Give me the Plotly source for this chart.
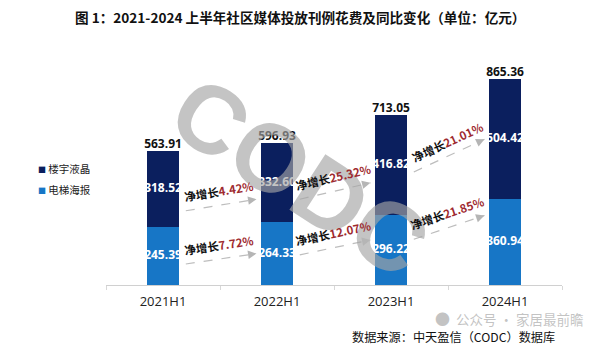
import math
import plotly.graph_objects as go

# ---------------- data ----------------
categories = ["2021H1", "2022H1", "2023H1", "2024H1"]
lcd_values = [318.52, 332.60, 416.82, 504.42]      # 楼宇液晶
poster_values = [245.39, 264.33, 296.22, 360.94]   # 电梯海报
totals = [563.91, 596.93, 713.05, 865.36]
lcd_growth = [4.42, 25.32, 21.01]
poster_growth = [7.72, 12.07, 21.85]
series_names = ["楼宇液晶", "电梯海报"]
title_text = "图 1：2021-2024 上半年社区媒体投放刊例花费及同比变化（单位：亿元）"
source_text = "数据来源：中天盈信（CODC）数据库"
wechat_text = "公众号 · 家居最前瞻"

# ---------------- layout constants ----------------
W, H = 600, 356
ML, MR, MT, MB = 106, 38, 71, 71
YMAX = 900
DARK = "#0b1f5e"
LIGHT = "#1776c6"
CJK = "Noto Sans CJK SC"
NUM = "Open Sans"

PW, PH = W - ML - MR, H - MT - MB
px_x = PW / len(categories)
px_y = PH / YMAX

def pxx(px):
    return (px - ML) / PW

def pxy(py):
    return (H - MB - py) / PH

fig = go.Figure()
fig.add_trace(go.Bar(x=categories, y=poster_values, name=series_names[1], showlegend=False,
                     marker=dict(color=LIGHT, line=dict(width=0)), width=0.28))
fig.add_trace(go.Bar(x=categories, y=lcd_values, name=series_names[0], showlegend=False,
                     marker=dict(color=DARK, line=dict(width=0)), width=0.28))

# segment labels
fig.add_trace(go.Scatter(x=categories, y=[v / 2 for v in poster_values], mode="text",
                         text=[f"<b>{v:.2f}</b>" for v in poster_values], cliponaxis=False,
                         textfont=dict(color="white", size=12, family=NUM),
                         showlegend=False, hoverinfo="skip"))
fig.add_trace(go.Scatter(x=categories, y=[p + v / 2 for p, v in zip(poster_values, lcd_values)],
                         mode="text", text=[f"<b>{v:.2f}</b>" for v in lcd_values], cliponaxis=False,
                         textfont=dict(color="white", size=12, family=NUM),
                         showlegend=False, hoverinfo="skip"))
fig.add_trace(go.Scatter(x=categories, y=totals, mode="text", cliponaxis=False,
                         text=[f"<b>{v:.2f}</b>" for v in totals], textposition="top center",
                         textfont=dict(color="#111", size=12, family=NUM),
                         showlegend=False, hoverinfo="skip"))

shapes = []
annotations = []

# watermark (drawn first so other annotations sit on top)
annotations.append(dict(x=pxx(300), y=pxy(176), xref="paper", yref="paper", text="<b>CODC</b>",
                        xanchor="center", yanchor="middle", showarrow=False, textangle=33,
                        font=dict(size=96, color="rgba(165,165,165,0.65)", family="Liberation Sans")))

def add_arrow(i, y0, y1, pct):
    x0 = i + 0.2
    x1 = i + 1 - 0.18
    shapes.append(dict(type="line", xref="x", yref="y", x0=x0, y0=y0, x1=x1, y1=y1,
                       line=dict(color="#bdbdbd", width=1.2, dash="dash")))
    dxp = (x1 - x0) * px_x
    dyp = (y1 - y0) * px_y
    L = math.hypot(dxp, dyp)
    ux, uy = dxp / L, dyp / L
    annotations.append(dict(x=x1, y=y1, xref="x", yref="y", text="", showarrow=True,
                            ax=-ux * 8, ay=uy * 8, arrowhead=2, arrowsize=1.3,
                            arrowwidth=1.3, arrowcolor="#b5b5b5"))
    ang = -math.degrees(math.atan2(dyp, dxp))
    annotations.append(dict(x=(x0 + x1) / 2, y=(y0 + y1) / 2, xref="x", yref="y",
                            text=f"<b>净增长</b><b><span style='color:#9e2a2f'>{pct:.2f}%</span></b>",
                            showarrow=False, textangle=ang, yshift=14, xshift=-2,
                            font=dict(size=11.5, color="#111", family=CJK)))

lo_start = [0.36, 0.48, 0.65]
lo_end = [0.50, 0.64, 0.81]
up_start = [0.21, 0.29, 0.43]
up_end = [0.29, 0.32, 0.50]
for i in range(3):
    add_arrow(i, poster_values[i] * lo_start[i], poster_values[i + 1] * lo_end[i], poster_growth[i])
    add_arrow(i, poster_values[i] + lcd_values[i] * up_start[i],
              poster_values[i + 1] + lcd_values[i + 1] * up_end[i], lcd_growth[i])

# custom legend (small squares close to labels)
for name, color, py in [(series_names[0], DARK, 168), (series_names[1], LIGHT, 189)]:
    annotations.append(dict(x=pxx(36), y=pxy(py), xref="paper", yref="paper",
                            xanchor="left", yanchor="middle", showarrow=False,
                            text=f"<span style='color:{color};font-size:8px'>■</span> {name}",
                            font=dict(size=10.5, color="#222", family=CJK)))

# title, wechat mark, source
annotations.append(dict(x=pxx(300), y=pxy(17), xref="paper", yref="paper", text=f"<b>{title_text}</b>",
                        xanchor="center", yanchor="middle",
                        showarrow=False, font=dict(size=13.6, color="#111", family=CJK)))
annotations.append(dict(x=pxx(433), y=pxy(318), xref="paper", yref="paper",
                        text="<span style='font-size:15px'>●</span>  " + wechat_text,
                        xanchor="left", yanchor="middle", showarrow=False,
                        font=dict(size=13.5, color="rgba(185,185,185,0.85)", family=CJK)))
annotations.append(dict(x=pxx(557), y=pxy(337), xref="paper", yref="paper", text=source_text,
                        xanchor="right", yanchor="middle", showarrow=False,
                        font=dict(size=12.2, color="#111", family=CJK)))

fig.update_layout(
    width=W, height=H, barmode="stack", showlegend=False,
    margin=dict(l=ML, r=MR, t=MT, b=MB),
    paper_bgcolor="white", plot_bgcolor="white",
    shapes=shapes, annotations=annotations,
    xaxis=dict(type="category", showline=True, linecolor="#d0d0d0", linewidth=1,
               ticks="outside", tickson="boundaries", ticklen=4, tickcolor="#d8d8d8",
               ticklabelstandoff=4,
               tickfont=dict(size=13, family=NUM, color="#222"), showgrid=False),
    yaxis=dict(range=[0, YMAX], visible=False, showgrid=False),
    font=dict(family=CJK),
)

fig.write_html("out.html", config={"displayModeBar": False},
               post_script="document.body.style.margin='0';")
